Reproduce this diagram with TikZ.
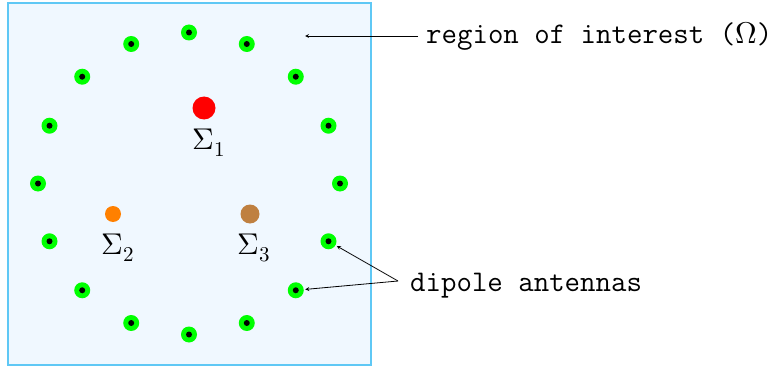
\documentclass[tikz,border=0pt]{standalone}
\usepackage{unicode-math}
\setmathfont{Latin Modern Math}
\definecolor{boxfill}{RGB}{240,248,255}
\definecolor{boxline}{RGB}{95,200,245}
\definecolor{antgreen}{RGB}{0,255,0}
\definecolor{srcorange}{RGB}{255,128,0}
\definecolor{srcbrown}{RGB}{191,128,64}
\begin{document}
\begin{tikzpicture}[x=1pt,y=-1pt,
  antenna/.style={circle,fill=antgreen,minimum size=16pt,inner sep=0pt,outer sep=0.5pt,
    path picture={\fill[black] (path picture bounding box.center) circle (3pt);}},
  src/.style={circle,inner sep=0pt},
  siglabel/.style={anchor=base,inner sep=0pt,font=\fontsize{30}{33}\selectfont},
  tlabel/.style={anchor=base west,inner sep=0pt,font=\ttfamily\fontsize{30}{34}\selectfont},
  pointer/.style={->,>=stealth,line width=0.8pt,shorten >=1pt}]
\useasboundingbox (0,0) rectangle (777,369);
\node[draw=boxline,fill=boxfill,line width=1.6pt,minimum width=363pt,minimum height=362pt,inner sep=0pt] (roi) at (189.5,184) {};
\foreach \k in {0,...,15}{
  \node[antenna] (a\k) at ({189+151*cos(22.5*\k)},{183.5-151*sin(22.5*\k)}) {};
}
\node[src,fill=red,minimum size=23pt] (s1) at (204,108) {};
\node[src,fill=srcorange,minimum size=16pt] (s2) at (113,214) {};
\node[src,fill=srcbrown,minimum size=19pt] (s3) at (250,214) {};
\node[siglabel] (l1) at (209,149) {$\Sigma_1$};
\node[siglabel] (l2) at (118,254) {$\Sigma_2$};
\node[siglabel] (l3) at (254,254) {$\Sigma_3$};
\node[tlabel] (roitext) at (426,44) {region of interest (\(\Omega\))};
\node[tlabel] (dipole) at (410,291) {dipole antennas};
\coordinate (roistart) at (418,36);
\coordinate (roiend) at (304,36);
\coordinate (dj) at (398,281);
\draw[pointer] (roistart) -- (roiend);
\draw[pointer] (dj) -- (a15);
\draw[pointer] (dj) -- (a14);
\end{tikzpicture}
\end{document}
